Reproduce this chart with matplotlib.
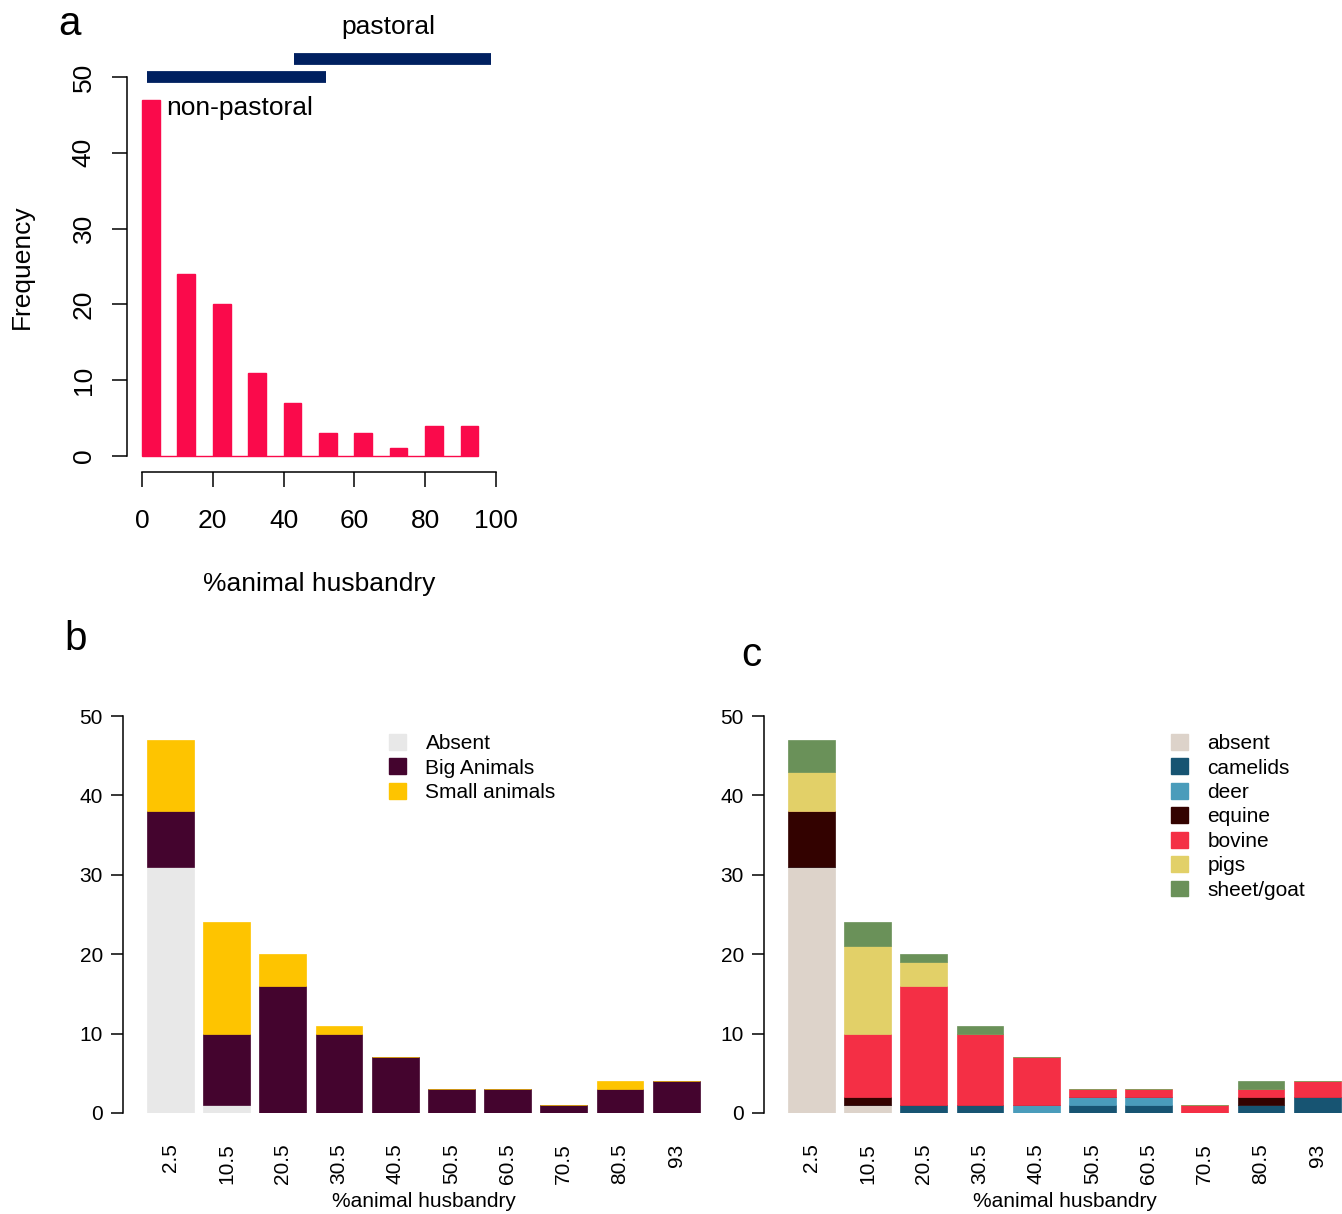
import matplotlib
matplotlib.use("Agg")
import matplotlib.pyplot as plt
import numpy as np
from matplotlib.patches import Patch

plt.rcParams['font.family'] = ['Liberation Sans', 'DejaVu Sans']

# ----- data ------------------------------------------------------------------------------------------------------- #

# panel a: histogram of %animal husbandry, 5-wide bins from 0 to 95
bin_edges = np.arange(0, 95, 5)
freq = [47, 0, 24, 0, 20, 0, 11, 0, 7, 0, 3, 0, 3, 0, 1, 0, 4, 0, 4]
nonpastoral_range = (1.4, 52.0)
pastoral_range = (43.0, 98.6)
nonpastoral_y = 50.0
pastoral_y = 52.4

# panels b and c: stacked counts per class
classes = ['2.5', '10.5', '20.5', '30.5', '40.5', '50.5', '60.5', '70.5', '80.5', '93']

size_names = ['Absent', 'Big Animals', 'Small animals']
size_absent = [31, 1, 0, 0, 0, 0, 0, 0, 0, 0]
size_big = [7, 9, 16, 10, 7, 3, 3, 1, 3, 4]
size_small = [9, 14, 4, 1, 0, 0, 0, 0, 1, 0]

species_names = ['absent', 'camelids', 'deer', 'equine', 'bovine', 'pigs', 'sheet/goat']
sp_absent = [31, 1, 0, 0, 0, 0, 0, 0, 0, 0]
sp_camelids = [0, 0, 1, 1, 0, 1, 1, 0, 1, 2]
sp_deer = [0, 0, 0, 0, 1, 1, 1, 0, 0, 0]
sp_equine = [7, 1, 0, 0, 0, 0, 0, 0, 1, 0]
sp_bovine = [0, 8, 15, 9, 6, 1, 1, 1, 1, 2]
sp_pigs = [5, 11, 3, 0, 0, 0, 0, 0, 0, 0]
sp_sheep = [4, 3, 1, 1, 0, 0, 0, 0, 1, 0]

size_colors = ['#e8e8e8', '#44042e', '#fec400']
species_colors = ['#ddd3ca', '#175472', '#4a9cbb', '#330200', '#f42f45', '#e2d068', '#6a9159']

# ----- layout helpers ---------------------------------------------------------------------------------------------- #

W, H = 1342, 1214
fig = plt.figure(figsize=(W / 100, H / 100), dpi=100)


def add_px_axes(left, top, width, height):
    return fig.add_axes([left / W, 1 - (top + height) / H, width / W, height / H])


def r_style(ax):
    for s in ['top', 'right']:
        ax.spines[s].set_visible(False)
    ax.spines['left'].set_linewidth(1.1)
    ax.spines['bottom'].set_linewidth(1.1)


# ----- panel a ----------------------------------------------------------------------------------------------------- #

ax_a = add_px_axes(127, 61.8, 384, 410.2)
ax_a.bar(bin_edges, freq, width=5, align='edge', color='#fa0a4b', edgecolor='#fa0a4b', linewidth=1.0)
ax_a.hlines(nonpastoral_y, *nonpastoral_range, color='#002060', linewidth=8.5, clip_on=False)
ax_a.hlines(pastoral_y, *pastoral_range, color='#002060', linewidth=8.5, clip_on=False)
ax_a.text(6.8, 45.9, 'non-pastoral', fontsize=19, va='center', ha='left')
ax_a.text(69.5, 56.6, 'pastoral', fontsize=19, va='center', ha='center', clip_on=False)
ax_a.set_xlim(-4.24, 104.24)
ax_a.set_ylim(-2.11, 52)
r_style(ax_a)
ax_a.spines['left'].set_bounds(0, 50)
ax_a.spines['bottom'].set_bounds(0, 100)
ax_a.set_xticks(range(0, 101, 20))
ax_a.set_yticks(range(0, 51, 10))
ax_a.tick_params(axis='both', length=10.5, width=1.1, labelsize=19)
ax_a.tick_params(axis='x', pad=16.5)
ax_a.tick_params(axis='y', pad=12)
for lbl in ax_a.get_yticklabels():
    lbl.set_rotation(90)
    lbl.set_va('center')
ax_a.set_xlabel('%animal husbandry', fontsize=19, labelpad=28)
ax_a.set_ylabel('Frequency', fontsize=19, labelpad=27)


# ----- panels b and c ---------------------------------------------------------------------------------------------- #

def stacked(ax, layers, colors, names, legend_left):
    x = 0.7 + 1.2 * np.arange(len(classes))
    bottom = np.zeros(len(classes))
    for vals, col in zip(layers, colors):
        ax.bar(x, vals, width=1.0, bottom=bottom, color=col, edgecolor=col, linewidth=0.5)
        bottom += np.array(vals)
    ax.set_xlim(-0.314, 12.2)
    ax.set_ylim(0, 50)
    r_style(ax)
    ax.spines['bottom'].set_visible(False)
    ax.spines['left'].set_bounds(0, 50)
    ax.set_yticks(range(0, 51, 10))
    ax.set_xticks(x)
    ax.set_xticklabels(classes, rotation=90)
    ax.tick_params(axis='y', length=8.5, width=1.1, labelsize=15, pad=6)
    ax.tick_params(axis='x', length=0, labelsize=15, pad=22)
    ax.set_xlabel('%animal husbandry', fontsize=15)
    ax.xaxis.set_label_coords(0.513, -0.2)
    handles = [Patch(facecolor=c, edgecolor=c) for c in colors]
    ax.legend(handles, names, loc='upper left', frameon=False, fontsize=15,
              handlelength=0.8, handleheight=0.8, handletextpad=0.95, labelspacing=0.25,
              borderaxespad=0, borderpad=0,
              bbox_to_anchor=(legend_left / W, 1 - 734 / H), bbox_transform=fig.transFigure)


ax_b = add_px_axes(123, 716, 586, 397)
stacked(ax_b, [size_absent, size_big, size_small], size_colors, size_names, 389)

ax_c = add_px_axes(764, 716, 586, 397)
stacked(ax_c, [sp_absent, sp_camelids, sp_deer, sp_equine, sp_bovine, sp_pigs, sp_sheep],
        species_colors, species_names, 1171)

# panel letters
fig.text(70 / W, 1 - 24 / H, 'a', fontsize=29, ha='center', va='center')
fig.text(76 / W, 1 - 639 / H, 'b', fontsize=29, ha='center', va='center')
fig.text(751 / W, 1 - 655 / H, 'c', fontsize=29, ha='center', va='center')

fig.savefig('out.png', dpi=100)
